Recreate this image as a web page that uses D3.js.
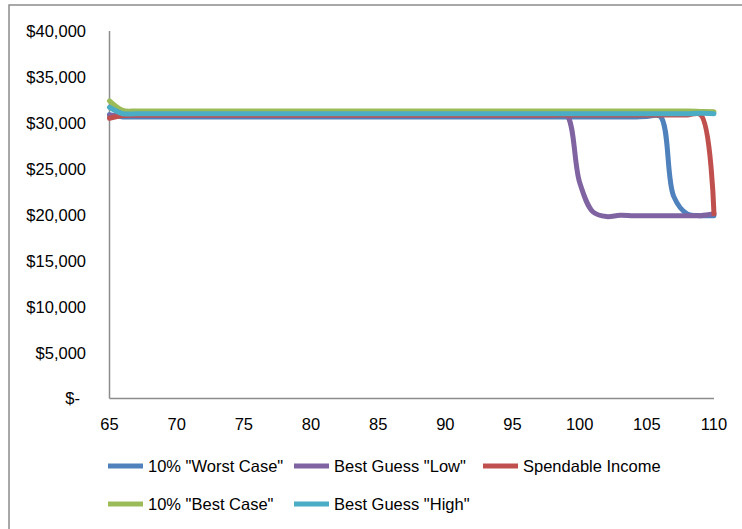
<!DOCTYPE html>
<html>
<head>
<meta charset="utf-8">
<script src="https://cdn.jsdelivr.net/npm/d3@7"></script>
<style>
  html, body { margin: 0; padding: 0; background: #fff; }
  svg { display: block; }
  text { font-family: "Liberation Sans", Arial, sans-serif; fill: #000; }
</style>
</head>
<body>
<svg id="chart" width="742" height="529"></svg>
<script>
// ---- data ----
const ages = d3.range(65, 111); // 65..110
const seriesNames = ['10% "Worst Case"', 'Best Guess "Low"', 'Spendable Income', '10% "Best Case"', 'Best Guess "High"'];
const seriesColors = ["#4F81BD", "#8064A2", "#C0504D", "#9BBB59", "#4BACC6"];

// 10% "Worst Case"
const worstCase = [30900, 30650, 30650, 30650, 30650, 30650, 30650, 30650, 30650, 30650,
  30650, 30650, 30650, 30650, 30650, 30650, 30650, 30650, 30650, 30650,
  30650, 30650, 30650, 30650, 30650, 30650, 30650, 30650, 30650, 30650,
  30650, 30650, 30650, 30650, 30650, 30650, 30650, 30650, 30650, 30650,
  30700, 30700, 22000, 20100, 19900, 19900];
// Best Guess "Low"
const bestGuessLow = [30800, 30800, 30800, 30800, 30800, 30800, 30800, 30800, 30800, 30800,
  30800, 30800, 30800, 30800, 30800, 30800, 30800, 30800, 30800, 30800,
  30800, 30800, 30800, 30800, 30800, 30800, 30800, 30800, 30800, 30800,
  30800, 30800, 30800, 30800, 30900, 23500, 20300, 19800, 19950, 19900,
  19900, 19900, 19900, 19900, 19900, 20100];
// Spendable Income
const spendable = [30500, 30800, 30850, 30850, 30850, 30850, 30850, 30850, 30850, 30850,
  30850, 30850, 30850, 30850, 30850, 30850, 30850, 30850, 30850, 30850,
  30850, 30850, 30850, 30850, 30850, 30850, 30850, 30850, 30850, 30850,
  30850, 30850, 30850, 30850, 30850, 30850, 30850, 30850, 30850, 30850,
  30850, 30850, 30850, 30850, 30900, 20100];
// 10% "Best Case"
const bestCase = [32400, 31350, 31300, 31300, 31300, 31300, 31300, 31300, 31300, 31300,
  31300, 31300, 31300, 31300, 31300, 31300, 31300, 31300, 31300, 31300,
  31300, 31300, 31300, 31300, 31300, 31300, 31300, 31300, 31300, 31300,
  31300, 31300, 31300, 31300, 31300, 31300, 31300, 31300, 31300, 31300,
  31300, 31300, 31300, 31300, 31250, 31200];
// Best Guess "High"
const bestGuessHigh = [31700, 31000, 31000, 31000, 31000, 31000, 31000, 31000, 31000, 31000,
  31000, 31000, 31000, 31000, 31000, 31000, 31000, 31000, 31000, 31000,
  31000, 31000, 31000, 31000, 31000, 31000, 31000, 31000, 31000, 31000,
  31000, 31000, 31000, 31000, 31000, 31000, 31000, 31000, 31000, 31000,
  31000, 31000, 31000, 31000, 31050, 31000];

const yTicks = [0, 5000, 10000, 15000, 20000, 25000, 30000, 35000, 40000];
const xTicks = [65, 70, 75, 80, 85, 90, 95, 100, 105, 110];

const seriesValues = [worstCase, bestGuessLow, spendable, bestCase, bestGuessHigh];

// ---- drawing ----
const svg = d3.select("#chart");

// outer chart border
svg.append("rect")
  .attr("x", 9).attr("y", 5)
  .attr("width", 800).attr("height", 600)
  .attr("fill", "none").attr("stroke", "#8c8c8c").attr("stroke-width", 1.5);

const x = d3.scaleLinear().domain([65, 110]).range([109.5, 714]);
const y = d3.scaleLinear().domain([0, 40000]).range([398.5, 31]);

// axes lines
svg.append("line")
  .attr("x1", x(65)).attr("x2", x(65))
  .attr("y1", y(40000)).attr("y2", y(0))
  .attr("stroke", "#8c8c8c").attr("stroke-width", 1.5);
svg.append("line")
  .attr("x1", x(65)).attr("x2", x(110))
  .attr("y1", y(0)).attr("y2", y(0))
  .attr("stroke", "#8c8c8c").attr("stroke-width", 1.5);

const fmt = d3.format(",");
const fs = 16.5;
// y tick labels
svg.append("g").selectAll("text").data(yTicks).join("text")
  .attr("x", d => d === 0 ? 80 : 86)
  .attr("y", d => y(d))
  .attr("dy", "0.36em")
  .attr("text-anchor", "end")
  .attr("font-size", fs)
  .text(d => d === 0 ? "$-" : "$" + fmt(d));

// x tick labels
svg.append("g").selectAll("text").data(xTicks).join("text")
  .attr("x", d => x(d))
  .attr("y", 424)
  .attr("dy", "0.36em")
  .attr("text-anchor", "middle")
  .attr("font-size", fs)
  .text(d => d);

// lines
const line = d3.line()
  .x((d, i) => x(ages[i]))
  .y(d => y(d))
  .curve(d3.curveCatmullRom.alpha(0.5));

svg.append("g").selectAll("path").data(seriesValues).join("path")
  .attr("d", d => line(d))
  .attr("fill", "none")
  .attr("stroke", (d, i) => seriesColors[i])
  .attr("stroke-width", 5)
  .attr("stroke-linejoin", "round")
  .attr("stroke-linecap", "round");

// legend
const legendPos = [
  { sx: 108, ty: 466 }, { sx: 294, ty: 466 }, { sx: 483, ty: 466 },
  { sx: 108, ty: 504 }, { sx: 294, ty: 504 }
];
const lg = svg.append("g").selectAll("g").data(seriesNames).join("g")
  .attr("transform", (d, i) => `translate(${legendPos[i].sx},${legendPos[i].ty})`);
lg.append("rect")
  .attr("x", 0).attr("y", -2.5).attr("width", 35).attr("height", 5)
  .attr("fill", (d, i) => seriesColors[i]);
lg.append("text")
  .attr("x", 40).attr("y", 0).attr("dy", "0.36em")
  .attr("font-size", fs)
  .text(d => d);
</script>
</body>
</html>
